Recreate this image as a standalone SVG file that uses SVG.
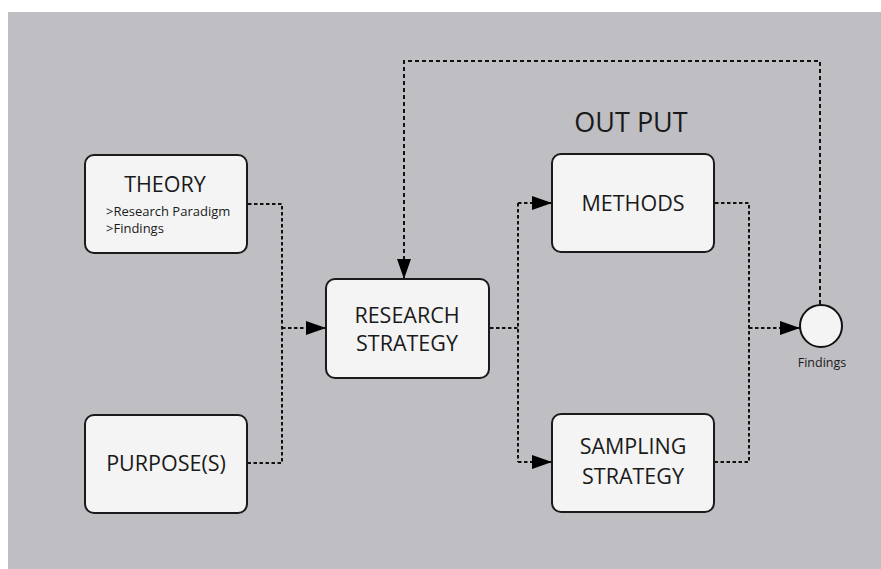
<svg xmlns="http://www.w3.org/2000/svg" width="881" height="569" viewBox="0 0 881 569">
<defs>
<marker id="arr" viewBox="0 0 20 14" refX="20" refY="7" markerWidth="20" markerHeight="14" markerUnits="userSpaceOnUse" orient="auto">
<path d="M0,0 L20,7 L0,14 Z" fill="#000"/>
</marker>
</defs>
<style>
.box{fill:#f4f4f4;stroke:#1a1a1a;stroke-width:2}
.t{font-family:"Open Sans","Liberation Sans",sans-serif;fill:#1a1a1a;text-anchor:middle}
.big{font-size:21.5px}
.c{fill:none;stroke:#111;stroke-width:2;stroke-dasharray:3.5 2.5}
</style>
<rect x="0" y="0" width="881" height="569" fill="#ffffff"/>
<rect x="8" y="12" width="873" height="557" fill="#bfbec3"/>
<text class="t" x="631" y="132" font-size="27">OUT PUT</text>
<g id="connectors">
<polyline class="c" points="248,204 282,204 282,463 248,463"/>
<line class="c" x1="282" y1="328" x2="326" y2="328" marker-end="url(#arr)"/>
<line class="c" x1="490" y1="328" x2="518" y2="328"/>
<line class="c" x1="518" y1="203" x2="518" y2="462"/>
<line class="c" x1="518" y1="203" x2="552" y2="203" marker-end="url(#arr)"/>
<line class="c" x1="518" y1="462" x2="552" y2="462" marker-end="url(#arr)"/>
<polyline class="c" points="715,203 749,203 749,462 715,462"/>
<line class="c" x1="749" y1="328" x2="800" y2="328" marker-end="url(#arr)"/>
<polyline class="c" points="820,304 820,61 404,61 404,279" marker-end="url(#arr)" style="stroke-dasharray:4 3"/>
</g>
<g id="theory">
<rect class="box" x="85" y="155" width="162" height="98" rx="9"/>
<text class="t big" x="165" y="192">THEORY</text>
<text class="t" x="106" y="216" font-size="13" style="text-anchor:start">&gt;Research Paradigm</text>
<text class="t" x="106" y="233" font-size="13" style="text-anchor:start">&gt;Findings</text>
</g>
<g id="purpose">
<rect class="box" x="85" y="415" width="162" height="98" rx="9"/>
<text class="t big" x="166" y="471">PURPOSE(S)</text>
</g>
<g id="research">
<rect class="box" x="326" y="279" width="163" height="99" rx="9"/>
<text class="t big" x="407" y="323">RESEARCH</text>
<text class="t big" x="407" y="351">STRATEGY</text>
</g>
<g id="methods">
<rect class="box" x="552" y="154" width="162" height="98" rx="9"/>
<text class="t big" x="633" y="211">METHODS</text>
</g>
<g id="sampling">
<rect class="box" x="552" y="414" width="162" height="98" rx="9"/>
<text class="t big" x="633" y="454">SAMPLING</text>
<text class="t big" x="633" y="484">STRATEGY</text>
</g>
<g id="findings">
<circle cx="821" cy="326" r="21" fill="#f4f4f4" stroke="#111" stroke-width="2"/>
<text class="t" x="822" y="367" font-size="12.5">Findings</text>
</g>
</svg>
